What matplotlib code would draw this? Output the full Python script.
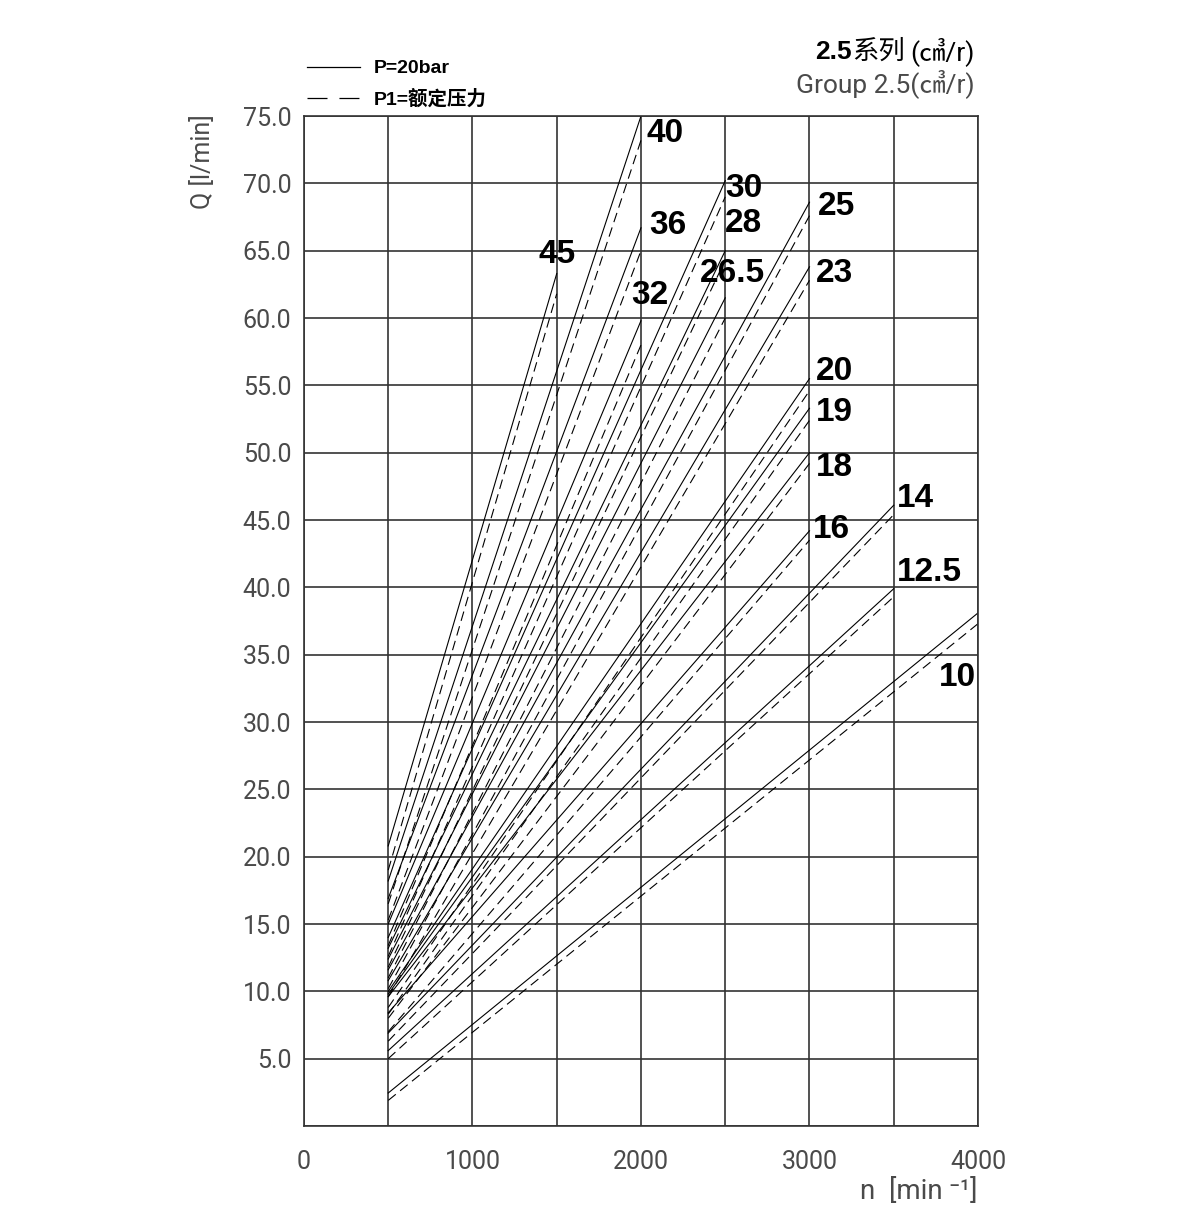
import matplotlib
matplotlib.use("Agg")
import matplotlib.pyplot as plt
from matplotlib.lines import Line2D
import numpy as np

# displacement (cm3/r) of each curve
displacement = ["45", "40", "36", "32", "30", "28", "26.5", "25",
                "23", "20", "19", "18", "16", "14", "12.5", "10"]
n_start = [500] * 16
n_end = [1500, 2000, 2000, 2000, 2500, 2500, 2500, 3000,
         3000, 3000, 3000, 3000, 3000, 3500, 3500, 4000]
# P=20bar (solid)
q_start_solid = [20.8, 18.2, 16.9, 15.0, 14.0, 13.2, 12.4, 11.6,
                 10.8, 10.0, 9.8, 9.6, 8.4, 6.9, 5.6, 2.45]
q_end_solid = [63.3, 75.0, 66.7, 59.8, 70.2, 65.0, 61.5, 68.6,
               63.8, 55.5, 53.3, 50.0, 44.2, 46.1, 39.9, 38.1]
# P1 = rated pressure (dashed)
q_start_dash = [19.0, 16.5, 15.3, 13.4, 12.6, 11.8, 11.0, 10.2,
                9.6, 8.8, 8.3, 8.0, 7.0, 6.3, 5.0, 1.9]
q_end_dash = [61.8, 73.2, 65.0, 58.0, 69.0, 64.3, 60.0, 67.6,
              62.8, 54.6, 52.4, 49.2, 43.5, 45.4, 39.3, 37.3]

# where the number labels sit (data coords)
label_pos = [(1390, 64.7), (2030, 73.7), (2050, 66.9), (1940, 61.7),
             (2500, 69.6), (2500, 67.0), (2350, 63.3), (3050, 68.3),
             (3040, 63.3), (3040, 56.0), (3040, 53.0), (3040, 48.9),
             (3020, 44.3), (3520, 46.6), (3520, 41.1), (3770, 33.3)]

x_ticks = np.arange(0, 4001, 500)
x_labels = ["0", "", "1000", "", "2000", "", "3000", "", "4000"]
y_ticks = np.arange(0, 76, 5)
y_labels = [""] + [f"{v:.1f}" for v in y_ticks[1:]]

THIN = ["Roboto", "DejaVu Sans"]
GRAY = "#4a4a4a"
GRID = "#333333"

plt.rcParams["lines.scale_dashes"] = False

fig = plt.figure(figsize=(12, 12.29), dpi=100)
ax = fig.add_axes([0.2533, 0.0838, 0.5617, 0.8218])

for i in range(len(displacement)):
    ax.plot([n_start[i], n_end[i]], [q_start_solid[i], q_end_solid[i]],
            color="black", lw=0.8)
    ax.plot([n_start[i], n_end[i]], [q_start_dash[i], q_end_dash[i]],
            color="black", lw=0.8, dashes=(7, 4))
    ax.text(label_pos[i][0], label_pos[i][1], displacement[i],
            fontsize=24, fontweight="bold", family="Liberation Sans",
            ha="left", va="center")

ax.set_xlim(0, 4000)
ax.set_ylim(0, 75)
ax.set_xticks(x_ticks)
ax.set_xticklabels(x_labels)
ax.set_yticks(y_ticks)
ax.set_yticklabels(y_labels)
ax.grid(True, color=GRID, lw=1.2)
ax.tick_params(length=0, labelsize=18, labelcolor=GRAY)
ax.tick_params(axis="x", pad=17)
ax.tick_params(axis="y", pad=9)
for lab in ax.get_xticklabels() + ax.get_yticklabels():
    lab.set_family(THIN)
for sp in ax.spines.values():
    sp.set_color(GRID)
    sp.set_linewidth(1.2)

ax.set_ylabel("Q [l/min]", fontsize=18, color=GRAY, family=THIN)
ax.yaxis.set_label_coords(-0.132, 0.955)
ax.set_xlabel("n  [min ⁻¹]", fontsize=20, color=GRAY, family=THIN,
              va="center")
ax.xaxis.set_label_coords(0.912, -0.065)

# legend
handles = [Line2D([], [], color="black", lw=0.9),
           Line2D([], [], color="black", lw=0.9, dashes=(14.4, 8.6))]
fig.legend(handles, ["P=20bar", "P1=额定压力"], loc="upper left",
           bbox_to_anchor=(0.243, 0.964), frameon=False, handlelength=2.7,
           handletextpad=0.75, labelspacing=0.6, borderpad=0.3,
           prop={"family": ["Liberation Sans", "Noto Sans CJK SC"],
                 "weight": "bold", "size": 14})

# series title, top right
fig.text(0.8125, 0.958, "(㎤/r)", fontsize=19,
         family=["Roboto", "Noto Sans CJK SC"], ha="right", va="center")
fig.text(0.754, 0.958, "系列", fontsize=19, family="Noto Sans CJK SC",
         ha="right", va="center")
fig.text(0.710, 0.958, "2.5", fontsize=19, fontweight="bold",
         family="Liberation Sans", ha="right", va="center")
fig.text(0.8125, 0.932, "Group 2.5(㎤/r)", fontsize=19, color=GRAY,
         family=["Roboto", "Noto Sans CJK SC"], ha="right", va="center")

fig.savefig("out.png", dpi=100)
